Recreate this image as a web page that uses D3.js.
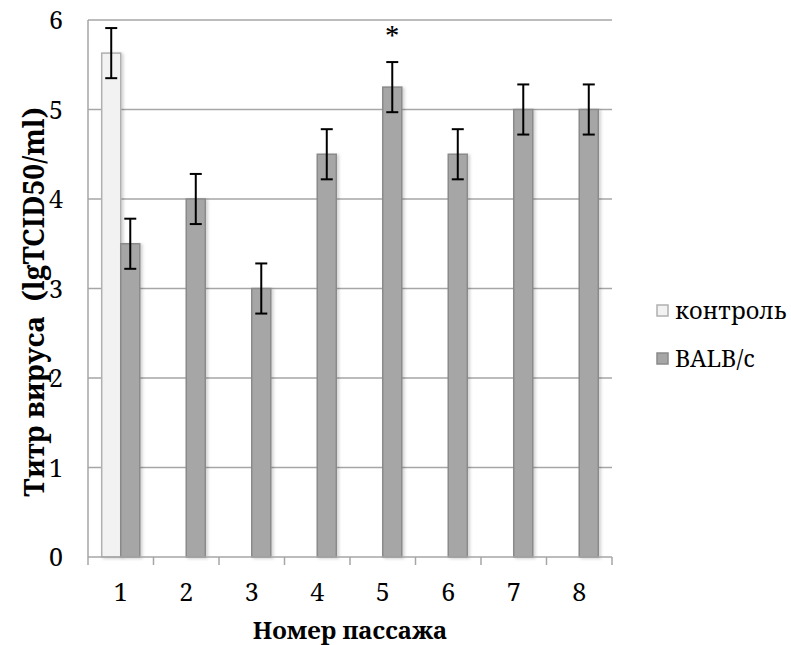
<!DOCTYPE html>
<html>
<head>
<meta charset="utf-8">
<script src="https://cdn.jsdelivr.net/npm/d3@7"></script>
<style>
	body { margin: 0; background: #fff; }
</style>
</head>
<body>
<div id="chart"></div>
<script>
var passages = ["1", "2", "3", "4", "5", "6", "7", "8"];
var seriesNames = ["контроль", "BALB/c"];
var controlValues = [5.63, null, null, null, null, null, null, null];
var balbValues = [3.5, 4, 3, 4.5, 5.25, 4.5, 5, 5];
var controlErr = [0.28, null, null, null, null, null, null, null];
var balbErr = [0.28, 0.28, 0.28, 0.28, 0.28, 0.28, 0.28, 0.28];
var yTicks = [0, 1, 2, 3, 4, 5, 6];
var starPassage = "5";

var W = 791, H = 645;
var plotL = 88, plotR = 612, plotT = 20, plotB = 557;
var fills = ["#f2f2f2", "#a6a6a6"];
var strokes = ["#b0b0b0", "#8a8a8a"];
var fontFam = "'Noto Serif', 'Liberation Serif', serif";

var svg = d3.select("#chart").append("svg")
	.attr("width", W)
	.attr("height", H);

var defs = svg.append("defs");
var f = defs.append("filter").attr("id", "shadow")
	.attr("x", "-30%").attr("y", "-10%").attr("width", "160%").attr("height", "120%");
f.append("feDropShadow").attr("dx", 2).attr("dy", 1).attr("stdDeviation", 1.5)
	.attr("flood-color", "#000").attr("flood-opacity", 0.18);

var x = d3.scaleBand().domain(passages).range([plotL, plotR]).padding(0);
var xs = d3.scaleBand().domain(seriesNames).range([0, x.bandwidth()])
	.paddingInner(0).paddingOuter(0.72);
var y = d3.scaleLinear().domain([0, 6]).range([plotB, plotT]);

// gridlines
svg.append("g").selectAll("line").data(yTicks.filter(function(d){ return d > 0; }))
	.enter().append("line")
	.attr("x1", plotL).attr("x2", plotR)
	.attr("y1", function(d){ return y(d); })
	.attr("y2", function(d){ return y(d); })
	.attr("stroke", "#a6a6a6").attr("stroke-width", 1.5);

// y axis line
svg.append("line").attr("x1", plotL).attr("x2", plotL).attr("y1", plotT).attr("y2", plotB)
	.attr("stroke", "#a6a6a6").attr("stroke-width", 1.5);

// y tick labels
svg.append("g").selectAll("text").data(yTicks)
	.enter().append("text")
	.attr("x", 63)
	.attr("y", function(d){ return y(d); })
	.attr("dy", "0.36em")
	.attr("text-anchor", "end")
	.style("font-family", fontFam)
	.style("font-size", "25px")
	.text(function(d){ return d; });

// bars
var rows = passages.map(function(p, i){
	return [
		{ p: p, s: seriesNames[0], v: controlValues[i], e: controlErr[i], k: 0 },
		{ p: p, s: seriesNames[1], v: balbValues[i], e: balbErr[i], k: 1 }
	];
});
var flat = [].concat.apply([], rows).filter(function(d){ return d.v != null; });

svg.append("g").selectAll("rect").data(flat)
	.enter().append("rect")
	.attr("x", function(d){ return x(d.p) + xs(d.s); })
	.attr("y", function(d){ return y(d.v); })
	.attr("width", xs.bandwidth())
	.attr("height", function(d){ return plotB - y(d.v); })
	.attr("fill", function(d){ return fills[d.k]; })
	.attr("stroke", function(d){ return strokes[d.k]; })
	.attr("stroke-width", 1.5)
	.attr("filter", "url(#shadow)");

// x axis
svg.append("line").attr("x1", plotL).attr("x2", plotR).attr("y1", plotB).attr("y2", plotB)
	.attr("stroke", "#a6a6a6").attr("stroke-width", 1.5);
var tickPos = passages.map(function(p){ return x(p); }).concat([plotR]);
svg.append("g").selectAll("line").data(tickPos)
	.enter().append("line")
	.attr("x1", function(d){ return d; }).attr("x2", function(d){ return d; })
	.attr("y1", plotB).attr("y2", plotB + 8)
	.attr("stroke", "#a6a6a6").attr("stroke-width", 1.5);

svg.append("g").selectAll("text").data(passages)
	.enter().append("text")
	.attr("x", function(d){ return x(d) + x.bandwidth() / 2; })
	.attr("y", 592)
	.attr("dy", "0.36em")
	.attr("text-anchor", "middle")
	.style("font-family", fontFam)
	.style("font-size", "25px")
	.text(function(d){ return d; });

// error bars
var eb = svg.append("g").selectAll("g").data(flat.filter(function(d){ return d.e != null; }))
	.enter().append("g")
	.attr("transform", function(d){ return "translate(" + (x(d.p) + xs(d.s) + xs.bandwidth() / 2) + ",0)"; });
eb.append("line")
	.attr("y1", function(d){ return y(d.v + d.e); })
	.attr("y2", function(d){ return y(d.v - d.e); })
	.attr("stroke", "#000").attr("stroke-width", 2);
eb.append("line").attr("x1", -6).attr("x2", 6)
	.attr("y1", function(d){ return y(d.v + d.e); })
	.attr("y2", function(d){ return y(d.v + d.e); })
	.attr("stroke", "#000").attr("stroke-width", 2);
eb.append("line").attr("x1", -6).attr("x2", 6)
	.attr("y1", function(d){ return y(d.v - d.e); })
	.attr("y2", function(d){ return y(d.v - d.e); })
	.attr("stroke", "#000").attr("stroke-width", 2);

// significance star
svg.append("text")
	.attr("x", x(starPassage) + xs(seriesNames[1]) + xs.bandwidth() / 2)
	.attr("y", 47)
	.attr("text-anchor", "middle")
	.style("font-family", fontFam)
	.style("font-size", "28px")
	.text("*");

// axis titles
svg.append("text")
	.attr("transform", "translate(44,302) rotate(-90)")
	.attr("text-anchor", "middle")
	.style("font-family", fontFam)
	.style("font-size", "28px")
	.style("font-weight", "bold")
	.style("white-space", "pre")
	.text("Титр вируса  (lgTCID50/ml)");

svg.append("text")
	.attr("x", 350)
	.attr("y", 639)
	.attr("text-anchor", "middle")
	.style("font-family", fontFam)
	.style("font-size", "24px")
	.style("font-weight", "bold")
	.text("Номер пассажа");

// legend
var leg = svg.append("g").selectAll("g").data(seriesNames)
	.enter().append("g")
	.attr("transform", function(d, i){ return "translate(657," + (311 + i * 48) + ")"; });
leg.append("rect")
	.attr("x", 0).attr("y", -6).attr("width", 11).attr("height", 11)
	.attr("fill", function(d, i){ return fills[i]; })
	.attr("stroke", function(d, i){ return strokes[i]; })
	.attr("stroke-width", 1.5);
leg.append("text")
	.attr("x", 18).attr("y", 0).attr("dy", "0.36em")
	.style("font-family", fontFam)
	.style("font-size", "23.5px")
	.text(function(d){ return d; });
</script>
</body>
</html>
